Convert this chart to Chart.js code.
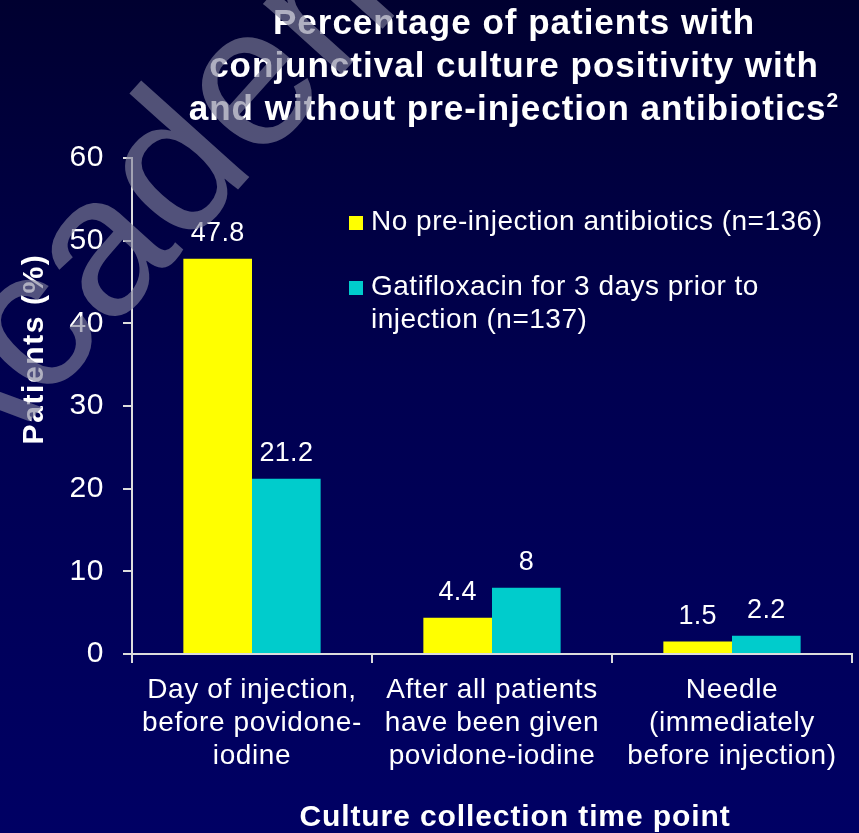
<!DOCTYPE html>
<html>
<head>
<meta charset="utf-8">
<script src="https://cdn.jsdelivr.net/npm/chart.js@4.4.0/dist/chart.umd.min.js"></script>
<style>
html,body{margin:0;padding:0;background:#000040;overflow:hidden;}
#wrap{width:859px;height:833px;background:linear-gradient(to bottom,#000030 0%,#000050 45%,#000064 100%);}
canvas{display:block;}
</style>
</head>
<body>
<div id="wrap"><canvas id="chart" width="859" height="833"></canvas></div>
<script>
// ---- data ----
const titleLines = ['Percentage of patients with', 'conjunctival culture positivity with', 'and without pre-injection antibiotics'];
const titleSup = '2';
const categories = [
  ['Day of injection,', 'before povidone-', 'iodine'],
  ['After all patients', 'have been given', 'povidone-iodine'],
  ['Needle', '(immediately', 'before injection)']
];
const seriesNames = ['No pre-injection antibiotics (n=136)', 'Gatifloxacin for 3 days prior to injection (n=137)'];
const noAntibiotics = [47.8, 4.4, 1.5];
const gatifloxacin = [21.2, 8, 2.2];
const yTicks = [0, 10, 20, 30, 40, 50, 60];
const yTitle = 'Patients (%)';
const xTitle = 'Culture collection time point';
const watermark = 'Academy';

// ---- styles ----
const FONT = '"Liberation Sans", Arial, Helvetica, sans-serif';
const colors = ['#ffff00', '#00cccc'];
const axisColor = '#dcdcdc';

const spacingPlugin = {
  id: 'spacing',
  beforeDraw(chart) { chart.ctx.letterSpacing = '0.6px'; }
};

const valueLabels = {
  id: 'valueLabels',
  afterDatasetsDraw(chart) {
    const ctx = chart.ctx;
    ctx.save();
    ctx.letterSpacing = '0.3px';
    ctx.font = '27px ' + FONT;
    ctx.fillStyle = '#ffffff';
    ctx.textAlign = 'center';
    ctx.textBaseline = 'alphabetic';
    chart.data.datasets.forEach((ds, di) => {
      chart.getDatasetMeta(di).data.forEach((bar, i) => {
        ctx.fillText(String(ds.data[i]), bar.x, bar.y - 18);
      });
    });
    ctx.restore();
  }
};

function wrapText(ctx, text, maxW) {
  const words = text.split(' ');
  const lines = [];
  let cur = '';
  words.forEach(w => {
    const test = cur ? cur + ' ' + w : w;
    if (ctx.measureText(test).width > maxW && cur) { lines.push(cur); cur = w; }
    else cur = test;
  });
  if (cur) lines.push(cur);
  return lines;
}

const customLegend = {
  id: 'customLegend',
  afterDraw(chart) {
    const ctx = chart.ctx;
    ctx.save();
    ctx.letterSpacing = '0.5px';
    ctx.font = '28px ' + FONT;
    ctx.textAlign = 'left';
    ctx.textBaseline = 'alphabetic';
    let baseline = 230;
    chart.data.datasets.forEach((ds, i) => {
      ctx.fillStyle = ds.backgroundColor;
      ctx.fillRect(349, baseline - 14, 14, 14);
      ctx.fillStyle = '#ffffff';
      const lines = wrapText(ctx, ds.label, 470);
      lines.forEach((ln, j) => ctx.fillText(ln, 371, baseline + j * 33));
      baseline += (lines.length - 1) * 33 + 65;
    });
    ctx.restore();
  }
};

const titlesPlugin = {
  id: 'titles',
  afterDraw(chart) {
    const ctx = chart.ctx;
    ctx.save();
    ctx.fillStyle = '#ffffff';
    ctx.textAlign = 'left';
    ctx.textBaseline = 'alphabetic';
    // main title
    const cx = 514;
    titleLines.forEach((t, i) => {
      ctx.letterSpacing = '1px';
      ctx.font = 'bold 35px ' + FONT;
      const w = ctx.measureText(t).width;
      let sw = 0;
      const last = i === titleLines.length - 1;
      if (last) { ctx.font = 'bold 21px ' + FONT; sw = ctx.measureText(titleSup).width; ctx.font = 'bold 35px ' + FONT; }
      const x0 = cx - (w + sw) / 2;
      const by = 34 + i * 43;
      ctx.fillText(t, x0, by);
      if (last) { ctx.font = 'bold 21px ' + FONT; ctx.fillText(titleSup, x0 + w, by - 13); }
    });
    // x axis title
    ctx.letterSpacing = '0.9px';
    ctx.font = 'bold 30px ' + FONT;
    ctx.textAlign = 'center';
    ctx.fillText(xTitle, 515, 826);
    // y axis title
    ctx.letterSpacing = '1.6px';
    ctx.translate(35, 349);
    ctx.rotate(-Math.PI / 2);
    ctx.textBaseline = 'middle';
    ctx.fillText(yTitle, 0, 0);
    ctx.restore();
  }
};

const watermarkPlugin = {
  id: 'watermark',
  afterDraw(chart) {
    const ctx = chart.ctx;
    ctx.save();
    ctx.letterSpacing = '0px';
    ctx.translate(-47, 506);
    ctx.rotate(-48 * Math.PI / 180);
    ctx.font = '200px ' + FONT;
    ctx.fillStyle = 'rgba(128,128,155,0.63)';
    ctx.textAlign = 'left';
    ctx.textBaseline = 'alphabetic';
    ctx.fillText(watermark, 0, 0);
    ctx.restore();
  }
};

new Chart(document.getElementById('chart'), {
  type: 'bar',
  data: {
    labels: categories,
    datasets: [
      { label: seriesNames[0], data: noAntibiotics, backgroundColor: colors[0], borderWidth: 0 },
      { label: seriesNames[1], data: gatifloxacin, backgroundColor: colors[1], borderWidth: 0 }
    ]
  },
  options: {
    responsive: false,
    animation: false,
    devicePixelRatio: 1,
    layout: { padding: { top: 158, right: 7, bottom: 0, left: 0 } },
    datasets: { bar: { barPercentage: 1, categoryPercentage: 0.572 } },
    plugins: { legend: { display: false }, title: { display: false }, tooltip: { enabled: false } },
    scales: {
      x: {
        grid: { offset: true, drawOnChartArea: false, color: axisColor, tickLength: 9, lineWidth: 2 },
        border: { color: axisColor, width: 2 },
        ticks: { color: '#ffffff', font: { family: FONT, size: 28, lineHeight: 1.18 }, padding: 11, maxRotation: 0, autoSkip: false },
        afterFit(s) { s.height = 179; }
      },
      y: {
        min: 0, max: 60,
        afterBuildTicks(s) { s.ticks = yTicks.map(v => ({ value: v })); },
        grid: { drawOnChartArea: false, color: axisColor, tickLength: 9, lineWidth: 2 },
        border: { color: axisColor, width: 2 },
        ticks: { color: '#ffffff', font: { family: FONT, size: 30 }, padding: 19 },
        afterFit(s) { s.width = 132; }
      }
    }
  },
  plugins: [spacingPlugin, valueLabels, customLegend, titlesPlugin, watermarkPlugin]
});
</script>
</body>
</html>
